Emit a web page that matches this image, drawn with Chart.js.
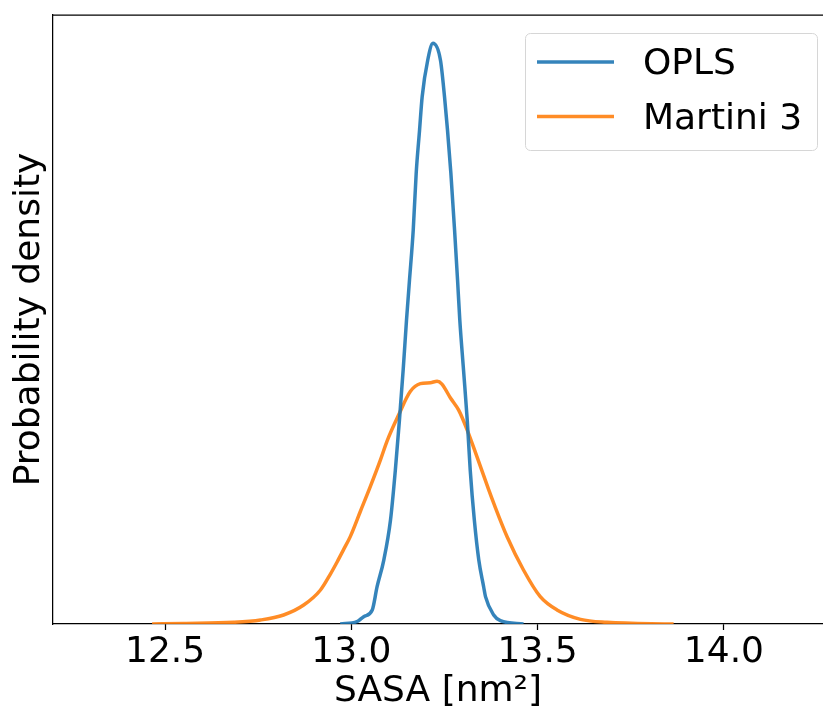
<!DOCTYPE html>
<html><head><meta charset="utf-8">
<script src="https://cdn.jsdelivr.net/npm/chart.js@4"></script>
<style>html,body{margin:0;padding:0;background:#fff;overflow:hidden}canvas{display:block}</style>
</head><body>
<canvas id="c" width="823" height="711"></canvas>
<script>
const seriesLabels = ['OPLS', 'Martini 3'];
const seriesColors = ['rgba(31,119,180,0.9)', 'rgba(255,127,14,0.9)'];

const oplsX = [12.970, 13.015, 13.033, 13.056, 13.069, 13.087, 13.105, 13.118, 13.129, 13.139, 13.148, 13.156, 13.166, 13.174, 13.183, 13.190, 13.205, 13.219, 13.239, 13.250, 13.258, 13.267, 13.277, 13.285, 13.291, 13.301, 13.311, 13.319, 13.330, 13.342, 13.355, 13.360, 13.382, 13.400, 13.462];
const oplsY = [0.000, 0.025, 0.079, 0.151, 0.401, 0.688, 1.119, 1.656, 2.194, 2.732, 3.270, 3.700, 4.237, 4.851, 5.313, 5.671, 6.066, 6.245, 6.066, 5.671, 5.313, 4.851, 4.237, 3.700, 3.270, 2.732, 2.194, 1.656, 1.119, 0.688, 0.401, 0.294, 0.097, 0.035, 0.000];

const martiniX = [12.465, 12.550, 12.684, 12.756, 12.818, 12.872, 12.917, 12.944, 12.962, 12.979, 12.997, 13.024, 13.051, 13.078, 13.096, 13.127, 13.158, 13.185, 13.212, 13.230, 13.243, 13.266, 13.288, 13.311, 13.337, 13.369, 13.382, 13.418, 13.462, 13.507, 13.552, 13.615, 13.686, 13.865];
const martiniY = [0.000, 0.005, 0.018, 0.043, 0.097, 0.204, 0.366, 0.540, 0.670, 0.800, 0.940, 1.210, 1.480, 1.765, 1.970, 2.250, 2.500, 2.585, 2.595, 2.610, 2.580, 2.430, 2.300, 2.086, 1.800, 1.440, 1.300, 0.939, 0.581, 0.294, 0.151, 0.050, 0.018, 0.000];

const xTicks = [12.5, 13.0, 13.5, 14.0];
const xTickLabels = ['12.5', '13.0', '13.5', '14.0'];
const xLabel = 'SASA [nm²]';
const yLabel = 'Probability density';

const FONT = '"DejaVu Sans", "Liberation Sans", sans-serif';
Chart.defaults.font.family = FONT;
Chart.defaults.color = '#000';

const toPts = (xs, ys) => xs.map((x, i) => ({x: x, y: ys[i]}));

const framePlugin = {
  id: 'frameAndLegend',
  afterDraw(chart) {
    const ctx = chart.ctx, ca = chart.chartArea;
    ctx.save();
    // top spine
    ctx.strokeStyle = '#000';
    ctx.lineWidth = 1.25;
    ctx.beginPath();
    ctx.moveTo(ca.left, ca.top);
    ctx.lineTo(ca.right + 2, ca.top);
    ctx.stroke();
    // legend frame
    const bw = 292, bh = 117;
    const bx = ca.right - 6 - bw, by = ca.top + 18;
    ctx.beginPath();
    ctx.roundRect(bx + 0.5, by + 0.5, bw, bh, 5);
    ctx.fillStyle = 'rgba(255,255,255,0.8)';
    ctx.fill();
    ctx.strokeStyle = '#d6d6d6';
    ctx.lineWidth = 1;
    ctx.stroke();
    // legend entries
    ctx.font = '36px ' + FONT;
    ctx.textBaseline = 'alphabetic';
    ctx.textAlign = 'left';
    chart.data.datasets.forEach((ds, i) => {
      const ly = by + 29 + i * 54.5;
      ctx.strokeStyle = ds.borderColor;
      ctx.lineWidth = 3.5;
      ctx.lineCap = 'butt';
      ctx.beginPath();
      ctx.moveTo(bx + 12, ly);
      ctx.lineTo(bx + 89, ly);
      ctx.stroke();
      ctx.fillStyle = '#000';
      ctx.fillText(ds.label, bx + 118, ly + 12);
    });
    ctx.restore();
  }
};

new Chart(document.getElementById('c'), {
  type: 'line',
  data: {
    datasets: [
      {label: seriesLabels[0], data: toPts(oplsX, oplsY), borderColor: seriesColors[0], backgroundColor: seriesColors[0],
       borderWidth: 3.5, pointRadius: 0, cubicInterpolationMode: 'monotone', fill: false},
      {label: seriesLabels[1], data: toPts(martiniX, martiniY), borderColor: seriesColors[1], backgroundColor: seriesColors[1],
       borderWidth: 3.5, pointRadius: 0, cubicInterpolationMode: 'monotone', fill: false}
    ]
  },
  options: {
    responsive: false,
    animation: false,
    devicePixelRatio: 1,
    layout: {padding: {top: 15, left: 0, right: 0, bottom: 0}},
    plugins: {legend: {display: false}, tooltip: {enabled: false}},
    scales: {
      x: {
        type: 'linear',
        min: 12.199,
        max: 14.266,
        afterBuildTicks: (scale) => { scale.ticks = xTicks.map(v => ({value: v})); },
        afterFit: (scale) => { scale.height = 87; },
        ticks: {
          callback: (v, i) => xTickLabels[i],
          font: {size: 36, lineHeight: 1.0},
          padding: 5,
          maxRotation: 0,
          autoSkip: false,
          color: '#000'
        },
        grid: {display: true, drawOnChartArea: false, drawTicks: true, tickLength: 6, tickWidth: 1.25, tickColor: '#000'},
        border: {display: true, color: '#000', width: 1.25},
        title: {display: true, text: xLabel, font: {size: 36, lineHeight: 1.1}, padding: {top: 0, bottom: 0}, color: '#000'}
      },
      y: {
        type: 'linear',
        min: 0,
        max: 6.55,
        afterFit: (scale) => { scale.width = 53; },
        ticks: {display: false},
        grid: {display: false, drawTicks: false},
        border: {display: true, color: '#000', width: 1.25},
        title: {display: true, text: yLabel, font: {size: 36, lineHeight: 1.2}, padding: {top: 8, bottom: 2}, color: '#000'}
      }
    }
  },
  plugins: [framePlugin]
});
</script>
</body></html>
